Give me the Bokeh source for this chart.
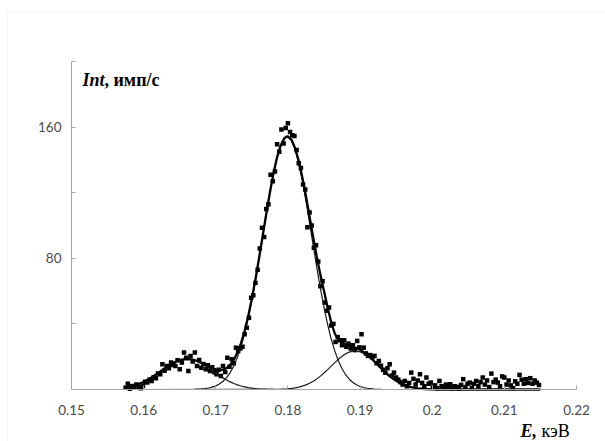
from bokeh.plotting import figure
from bokeh.models import Range1d, FixedTicker, Label, BoxAnnotation, CustomJSTickFormatter
from bokeh.embed import file_html
from bokeh.resources import INLINE

# ---------------- data ----------------
X_TICKS = [0.15, 0.16, 0.17, 0.18, 0.19, 0.20, 0.21, 0.22]
Y_TICKS = [0, 40, 80, 120, 160, 200]
Y_LABELED = [80, 160]

# measured spectrum: channel grid + counts
E_START = 0.1575
E_STEP = 0.0003
SCAN_COUNTS = [
    1.0, 3.5, 0.5, 2.2, 1.2, 3.0, 1.6, 0.8, 2.2, 4.8,
    4.2, 6.0, 5.2, 7.5, 6.9, 9.8, 9.3, 15.4, 11.5, 14.4,
    13.0, 16.4, 15.0, 14.4, 17.8, 12.4, 16.5, 22.5, 19.4, 11.3,
    20.5, 17.0, 22.5, 14.4, 18.0, 13.3, 15.5, 12.4, 14.8, 11.3,
    13.5, 10.5, 9.3, 12.0, 8.3, 14.4, 10.6, 19.4, 13.8, 18.5,
    16.0, 25.5, 23.5, 25.0, 26.0, 33.7, 37.7, 43.8, 56.0, 57.5,
    65.0, 73.0, 86.0, 98.7, 93.0, 110.0, 113.0, 131.0, 127.0, 133.0,
    149.5, 145.0, 158.6, 150.0, 159.5, 162.3, 157.0, 155.0, 154.5, 146.0,
    138.0, 135.0, 125.0, 122.0, 99.0, 108.0, 100.0, 86.5, 88.0, 78.0,
    63.0, 66.0, 53.0, 48.0, 50.0, 39.0, 40.0, 29.0, 32.0, 30.0,
    27.0, 30.0, 26.0, 28.0, 25.0, 27.0, 24.0, 29.6, 25.7, 33.7,
    25.5, 22.0, 20.5, 21.0, 19.6, 20.5, 16.0, 17.4, 14.5, 12.0,
    10.3, 13.0, 15.4, 8.5, 10.3, 7.3, 6.0, 4.5, 3.0, 5.2,
    2.0, 4.0, 10.3, 6.5, 3.0, 5.5, 9.3, 4.0, 2.0, 7.3,
    3.5, 4.2, 1.2, 2.5, 0.8, 5.2, 2.0, 1.0, 3.0, 1.5,
    3.2, 0.8, 2.0, 1.6, 0.5, 2.8, 6.3, 1.5, 3.5, 4.2,
    1.0, 3.5, 5.2, 2.0, 4.5, 7.3, 3.0, 5.5, 1.5, 9.7,
    4.5, 6.0, 4.2, 2.0, 8.0, 7.3, 3.0, 5.5, 2.5, 0.8,
    5.0, 3.5, 8.9, 6.0, 3.5, 6.3, 4.0, 6.9, 3.5, 5.5,
    4.2, 2.8,
]

# envelope (total fit)
ENV_E = [
    0.1575, 0.158, 0.1585, 0.159, 0.1595, 0.160, 0.1605, 0.161, 0.1615, 0.162,
    0.1625, 0.163, 0.1635, 0.164, 0.1645, 0.165, 0.1655, 0.166, 0.1665, 0.167,
    0.1675, 0.168, 0.1685, 0.169, 0.1695, 0.170, 0.1705, 0.171, 0.1715, 0.172,
    0.1725, 0.173, 0.1735, 0.174, 0.1745, 0.175, 0.1755, 0.176, 0.1765, 0.177,
    0.1775, 0.178, 0.1785, 0.179, 0.1795, 0.1799, 0.180, 0.1805, 0.181, 0.1815,
    0.182, 0.1825, 0.183, 0.1835, 0.184, 0.1845, 0.185, 0.1855, 0.186, 0.1865,
    0.187, 0.1875, 0.188, 0.1885, 0.189, 0.1895, 0.190, 0.1905, 0.191, 0.1915,
    0.192, 0.1925, 0.193, 0.1935, 0.194, 0.1945, 0.195, 0.1955, 0.196, 0.1965,
    0.197, 0.1975, 0.198, 0.199, 0.200, 0.201, 0.215,
]
ENV_I = [
    1.2, 1.6, 2.1, 2.8, 3.7, 4.6, 5.8, 7.1, 8.5, 10.0,
    11.6, 13.2, 14.6, 15.9, 17.1, 17.9, 18.4, 18.6, 18.4, 18.0,
    17.3, 16.2, 15.2, 14.1, 13.0, 12.3, 11.9, 12.1, 13.1, 15.0,
    18.1, 22.5, 28.3, 35.8, 44.8, 55.3, 67.2, 80.2, 93.7, 107.2,
    120.1, 131.8, 141.7, 148.9, 153.2, 154.4, 154.3, 152.3, 147.2, 139.3,
    129.3, 117.8, 105.4, 92.9, 80.9, 69.9, 60.1, 50.0, 41.0, 34.0,
    30.5, 28.5, 27.5, 26.8, 26.2, 25.3, 24.2, 22.7, 21.3, 19.3,
    17.1, 14.9, 12.6, 10.5, 8.5, 6.8, 5.3, 4.0, 3.0, 2.2,
    1.5, 1.1, 0.7, 0.3, 0.1, 0.0, 0.0,
]

# component 1 (peak near 0.166)
P1_E = [
    0.1575, 0.158, 0.1585, 0.159, 0.1595, 0.160, 0.1605, 0.161, 0.1615, 0.162,
    0.1625, 0.163, 0.1635, 0.164, 0.1645, 0.165, 0.1655, 0.166, 0.1665, 0.167,
    0.1675, 0.168, 0.1685, 0.169, 0.1695, 0.170, 0.1705, 0.171, 0.1715, 0.172,
    0.1725, 0.173, 0.1735, 0.174, 0.1745, 0.175, 0.1755,
    0.176, 0.177, 0.178, 0.215,
]
P1_I = [
    1.15, 1.58, 2.12, 2.81, 3.65, 4.64, 5.79, 7.09, 8.52, 10.03,
    11.6, 13.15, 14.6, 15.9, 17.05, 17.9, 18.4, 18.6, 18.4, 17.9,
    17.05, 15.9, 14.6, 13.15, 11.6, 10.03, 8.52, 7.09, 5.79, 4.64,
    3.65, 2.81, 2.12, 1.58, 1.15, 0.82, 0.57,
    0.39, 0.17, 0.07, 0.0,
]

# component 2 (main peak near 0.18)
P2_E = [
    0.1575, 0.167,
    0.168, 0.1685, 0.169, 0.1695, 0.170, 0.1705, 0.171, 0.1715, 0.172, 0.1725,
    0.173, 0.1735, 0.174, 0.1745, 0.175, 0.1755, 0.176, 0.1765, 0.177, 0.1775,
    0.178, 0.1785, 0.179, 0.1795, 0.1799, 0.180, 0.1805, 0.181, 0.1815, 0.182,
    0.1825, 0.183, 0.1835, 0.184, 0.1845, 0.185, 0.1855, 0.186, 0.1865, 0.187,
    0.1875, 0.188, 0.1885, 0.189, 0.1895, 0.190, 0.1905,
    0.191, 0.192, 0.193, 0.215,
]
P2_I = [
    0.0, 0.1,
    0.34, 0.56, 0.90, 1.43, 2.22, 3.37, 5.01, 7.28, 10.35, 14.4,
    19.65, 26.2, 34.2, 43.6, 54.5, 66.65, 79.8, 93.4, 107.0, 120.0,
    131.7, 141.5, 148.7, 152.9, 154.0, 153.9, 151.6, 146.2, 137.9, 127.3,
    115.0, 101.6, 87.9, 74.4, 61.7, 50.0, 39.7, 30.8, 23.4, 17.4,
    12.65, 9.0, 6.28, 4.28, 2.86, 1.87, 1.19,
    0.75, 0.27, 0.05, 0.0,
]

# component 3 (peak near 0.189)
P3_E = [
    0.1575, 0.177,
    0.178, 0.1785, 0.179, 0.1795, 0.180, 0.1805, 0.181, 0.1815, 0.182, 0.1825,
    0.183, 0.1835, 0.184, 0.1845, 0.185, 0.1855, 0.186, 0.1865, 0.187, 0.1875,
    0.188, 0.1885, 0.189, 0.1893, 0.1895, 0.190, 0.1905, 0.191, 0.1915, 0.192,
    0.1925, 0.193, 0.1935, 0.194, 0.1945, 0.195, 0.1955, 0.196, 0.1965, 0.197,
    0.1975, 0.198,
    0.199, 0.200, 0.201, 0.215,
]
P3_I = [
    0.0, 0.02,
    0.07, 0.11, 0.18, 0.29, 0.44, 0.67, 0.99, 1.44, 2.03, 2.81,
    3.8, 5.02, 6.47, 8.16, 10.05, 12.1, 14.25, 16.4, 18.4, 20.25,
    21.74, 22.82, 23.4, 23.5, 23.46, 22.98, 22.0, 20.58, 18.8, 16.8,
    14.7, 12.5, 10.45, 8.52, 6.79, 5.29, 4.02, 2.99, 2.18, 1.54,
    1.07, 0.73,
    0.31, 0.12, 0.04, 0.0,
]

SCAN_E = [round(E_START + i * E_STEP, 4) for i in range(len(SCAN_COUNTS))]

# ---------------- figure ----------------
# The frame fills the whole canvas; the axes are drawn at fixed positions
# inside it so that the titles below / left of the axes are not clipped.
W, H = 605, 441
PX_PER_X = 505 / 0.07      # pixels per keV
PX_PER_Y = 328 / 200       # pixels per count
LEFT, RIGHT, TOP, BOTTOM = 71, 29, 61, 52
x0 = 0.15 - LEFT / PX_PER_X
x1 = 0.22 + RIGHT / PX_PER_X
y0 = 0 - BOTTOM / PX_PER_Y
y1 = 200 + TOP / PX_PER_Y

p = figure(width=W, height=H,
           x_range=Range1d(x0, x1), y_range=Range1d(y0, y1),
           output_backend="svg", toolbar_location=None,
           min_border_left=0, min_border_right=0,
           min_border_top=0, min_border_bottom=0)
p.xgrid.visible = False
p.ygrid.visible = False
p.outline_line_color = None
p.background_fill_color = "white"
p.border_fill_color = "white"

AXIS_GRAY = "#a3a3a3"
LABEL_GRAY = "#4a4a4a"
for ax in (p.xaxis[0], p.yaxis[0]):
    ax.axis_line_color = AXIS_GRAY
    ax.axis_line_width = 1
    ax.major_tick_line_color = AXIS_GRAY
    ax.major_tick_in = 4
    ax.major_tick_out = 0
    ax.minor_tick_line_color = None
    ax.major_label_text_font = "Lato"
    ax.major_label_text_font_size = "13.5px"
    ax.major_label_text_color = LABEL_GRAY

p.xaxis[0].fixed_location = 0
p.xaxis[0].bounds = (0.15, 0.22)
p.xaxis[0].ticker = FixedTicker(ticks=X_TICKS)
p.xaxis[0].formatter = CustomJSTickFormatter(
    code="return String(Number(tick.toFixed(2)));")
p.xaxis[0].major_label_standoff = 15

p.yaxis[0].fixed_location = 0.15
p.yaxis[0].bounds = (0, 200)
p.yaxis[0].ticker = FixedTicker(ticks=Y_TICKS)
p.yaxis[0].formatter = CustomJSTickFormatter(
    args=dict(shown=Y_LABELED),
    code="return shown.includes(Math.round(tick)) ? String(Math.round(tick)) : '';")
p.yaxis[0].major_label_standoff = 10

# light frame of the original picture
p.add_layout(BoxAnnotation(left=x0 + 7 / PX_PER_X, right=x1 + 1,
                           top=y1 - 12 / PX_PER_Y, bottom=y0 - 100,
                           fill_alpha=0, line_color="#d9d9d9", line_width=1,
                           level="underlay"))

# measured points
p.scatter(SCAN_E, SCAN_COUNTS, marker="square", size=4.5,
          fill_color="black", line_color=None)

# fitted components and envelope
for xs, ys in ((P1_E, P1_I), (P2_E, P2_I), (P3_E, P3_I)):
    p.line(xs, ys, line_color="#1a1a1a", line_width=1.2)
p.line(ENV_E, ENV_I, line_color="black", line_width=2.3)

# axis titles
TITLE_FONT = "Liberation Serif"
p.add_layout(Label(x=0.15 + 11 / PX_PER_X, y=188.5, text="Int",
                   text_font=TITLE_FONT, text_font_style="bold italic",
                   text_font_size="18px", text_color="black",
                   text_baseline="alphabetic"))
p.add_layout(Label(x=0.15 + 11 / PX_PER_X, y=188.5, x_offset=22, text=",  имп/с",
                   text_font=TITLE_FONT, text_font_style="bold",
                   text_font_size="18px", text_color="black",
                   text_baseline="alphabetic"))
p.add_layout(Label(x=0.15 + 449 / PX_PER_X, y=-25.6, text="E,",
                   text_font=TITLE_FONT, text_font_style="bold italic",
                   text_font_size="18px", text_color="black",
                   text_baseline="alphabetic"))
p.add_layout(Label(x=0.15 + 449 / PX_PER_X, y=-25.6, x_offset=21, text="кэВ",
                   text_font=TITLE_FONT, text_font_style="normal",
                   text_font_size="18px", text_color="black",
                   text_baseline="alphabetic"))

open("out.html", "w").write(file_html(p, INLINE))
